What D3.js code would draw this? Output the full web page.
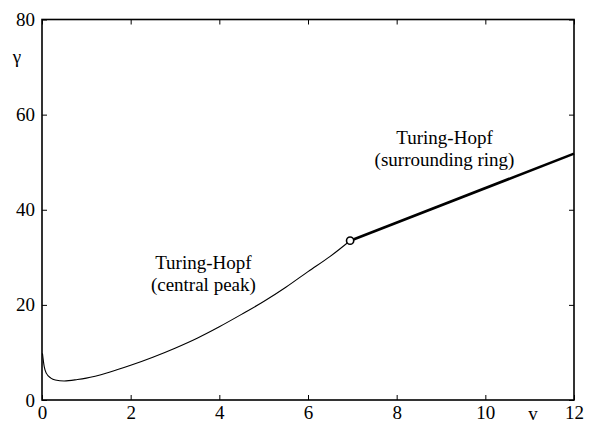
<!DOCTYPE html>
<html>
<head>
<meta charset="utf-8">
<script src="https://cdn.jsdelivr.net/npm/d3@7"></script>
</head>
<body style="margin:0">
<script>
// thin branch: Turing-Hopf (central peak)
const centralV = [0.01, 0.05, 0.1, 0.2, 0.3, 0.5, 0.8, 1.0, 1.5, 2, 2.5, 3, 3.5, 4, 4.5, 5, 5.5, 6, 6.5, 6.95];
const centralGamma = [9.8, 7.0, 5.6, 4.6, 4.2, 4.0, 4.3, 4.6, 5.8, 7.3, 9.0, 10.9, 13.0, 15.4, 18.0, 20.7, 23.7, 27.0, 30.2, 33.5];
// thick branch: Turing-Hopf (surrounding ring)
const ringV = [6.95, 12];
const ringGamma = [33.5, 51.8];
// codimension-two point
const switchPoint = [6.95, 33.5];

const xTicks = [0, 2, 4, 6, 8, 10, 12];
const yTicks = [0, 20, 40, 60, 80];

const serif = 'Liberation Serif';

const dimensions = {
  width: 603,
  height: 423,
  margin: { top: 19.5, bottom: 23, left: 42, right: 29 },
};
dimensions.containerWidth = dimensions.width - dimensions.margin.left - dimensions.margin.right;
dimensions.containerHeight = dimensions.height - dimensions.margin.top - dimensions.margin.bottom;

const svg = d3.select('body').append('svg')
  .attr('width', dimensions.width)
  .attr('height', dimensions.height)
  .attr('font-family', serif)
  .attr('font-size', 19);
const container = svg.append('g').attr('transform', `translate(${dimensions.margin.left}, ${dimensions.margin.top})`);

const xScale = d3.scaleLinear().domain([0, 12]).range([0, dimensions.containerWidth]);
const yScale = d3.scaleLinear().domain([0, 80]).range([dimensions.containerHeight, 0]);

const tickLen = 5;
const axisStyle = (g) => {
  g.attr('font-family', serif).attr('font-size', 19);
  g.select('.domain').remove();
  g.selectAll('.tick line').attr('stroke', '#000').attr('stroke-width', 1);
  g.selectAll('.tick text').attr('font-family', serif);
};

// bottom, top, left, right with inward ticks
container.append('g')
  .attr('transform', `translate(0, ${dimensions.containerHeight})`)
  .call(d3.axisBottom(xScale).tickValues(xTicks).tickSize(-tickLen).tickPadding(6))
  .call(axisStyle);
container.append('g')
  .call(d3.axisTop(xScale).tickValues(xTicks).tickSize(-tickLen).tickFormat(''))
  .call(axisStyle);
container.append('g')
  .call(d3.axisLeft(yScale).tickValues(yTicks).tickSize(-tickLen).tickPadding(7))
  .call(axisStyle);
container.append('g')
  .attr('transform', `translate(${dimensions.containerWidth}, 0)`)
  .call(d3.axisRight(yScale).tickValues(yTicks).tickSize(-tickLen).tickFormat(''))
  .call(axisStyle);

container.append('rect')
  .attr('width', dimensions.containerWidth)
  .attr('height', dimensions.containerHeight)
  .attr('fill', 'none')
  .attr('stroke', '#000')
  .attr('stroke-width', 1.6);

const line = d3.line()
  .x((d) => xScale(d[0]))
  .y((d) => yScale(d[1]))
  .curve(d3.curveMonotoneX);

container.append('path')
  .datum(centralV.map((v, i) => [v, centralGamma[i]]))
  .attr('d', line)
  .attr('fill', 'none')
  .attr('stroke', '#000')
  .attr('stroke-width', 1.1);

container.append('path')
  .datum(ringV.map((v, i) => [v, ringGamma[i]]))
  .attr('d', line)
  .attr('fill', 'none')
  .attr('stroke', '#000')
  .attr('stroke-width', 2.6);

container.append('circle')
  .attr('cx', xScale(switchPoint[0]))
  .attr('cy', yScale(switchPoint[1]))
  .attr('r', 3.6)
  .attr('fill', '#fff')
  .attr('stroke', '#000')
  .attr('stroke-width', 1.6);

// labels, one text per line
const label = (x, y, lines) => {
  lines.forEach((s, i) => {
    container.append('text')
      .attr('x', x)
      .attr('y', y + i * 22.5)
      .attr('text-anchor', 'middle')
      .attr('font-family', serif)
      .text(s);
  });
};
label(xScale(3.64), yScale(27.6), ['Turing-Hopf', '(central peak)']);
label(xScale(9.08), yScale(53.9), ['Turing-Hopf', '(surrounding ring)']);

svg.append('text')
  .attr('x', 17)
  .attr('y', 63)
  .attr('text-anchor', 'middle')
  .attr('font-family', serif)
  .text('γ');

svg.append('text')
  .attr('x', 533)
  .attr('y', 420)
  .attr('text-anchor', 'middle')
  .attr('font-family', serif)
  .text('v');
</script>
</body>
</html>
